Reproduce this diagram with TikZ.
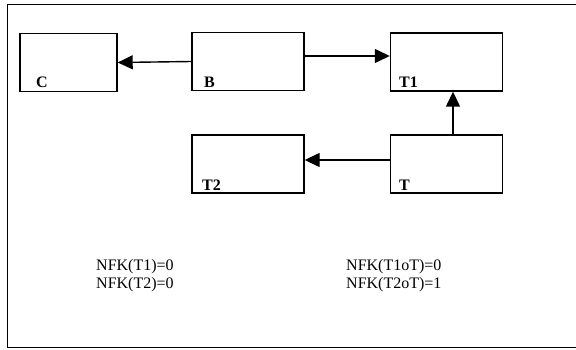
\documentclass[tikz,border=0pt]{standalone}
\usepackage{fontspec}
\setmainfont{Liberation Serif}
\usetikzlibrary{arrows.meta}
\tikzset{
	box/.style={draw,line width=1.4pt,minimum width=112pt,minimum height=58pt,inner sep=0pt},
	boxlabel/.style={anchor=base west,inner sep=0pt,font=\fontsize{16}{18}\selectfont\bfseries},
	link/.style={line width=1.4pt,-{Triangle[length=15pt,width=14pt]}},
	nfk/.style={anchor=base west,inner sep=0pt,font=\fontsize{16}{18}\selectfont}
}
\begin{document}
\begin{tikzpicture}[x=1pt,y=1pt]
			\useasboundingbox (0,0) rectangle (576,-350);
			\draw[line width=0.9pt] (7,-4) rectangle (590,-347);
			\node[box,minimum width=97pt] (C) at (68.5,-62.5) {};
			\node[box] (B) at (248,-61.5) {};
			\node[box] (T1) at (446.5,-62) {};
			\node[box] (T2) at (248,-164) {};
			\node[box] (T) at (446.5,-164) {};
			\foreach \n/\x/\y/\l in {cl/36/88/C,bl/204/88/B,t1l/399/88/T1,t2l/202/190/T2,tl/399/190/T}{
				\node[boxlabel] (\n) at (\x,-\y) {\l};
			}
			\draw[link] (B.west) -- (C.east);
			\draw[link] ([yshift=5.5pt]B.east) -- ([yshift=6pt]T1.west);
			\draw[link] ([xshift=6.5pt]T.north) -- ([xshift=6.5pt]T1.south);
			\draw[link] ([yshift=4pt]T.west) -- ([yshift=4pt]T2.east);
			\node[nfk] (n1) at (96,-270) {NFK(T1)=0};
			\node[nfk] (n2) at (96,-288) {NFK(T2)=0};
			\node[nfk] (n3) at (346,-270) {NFK(T1oT)=0};
			\node[nfk] (n4) at (346,-288) {NFK(T2oT)=1};
		\end{tikzpicture}
\end{document}
